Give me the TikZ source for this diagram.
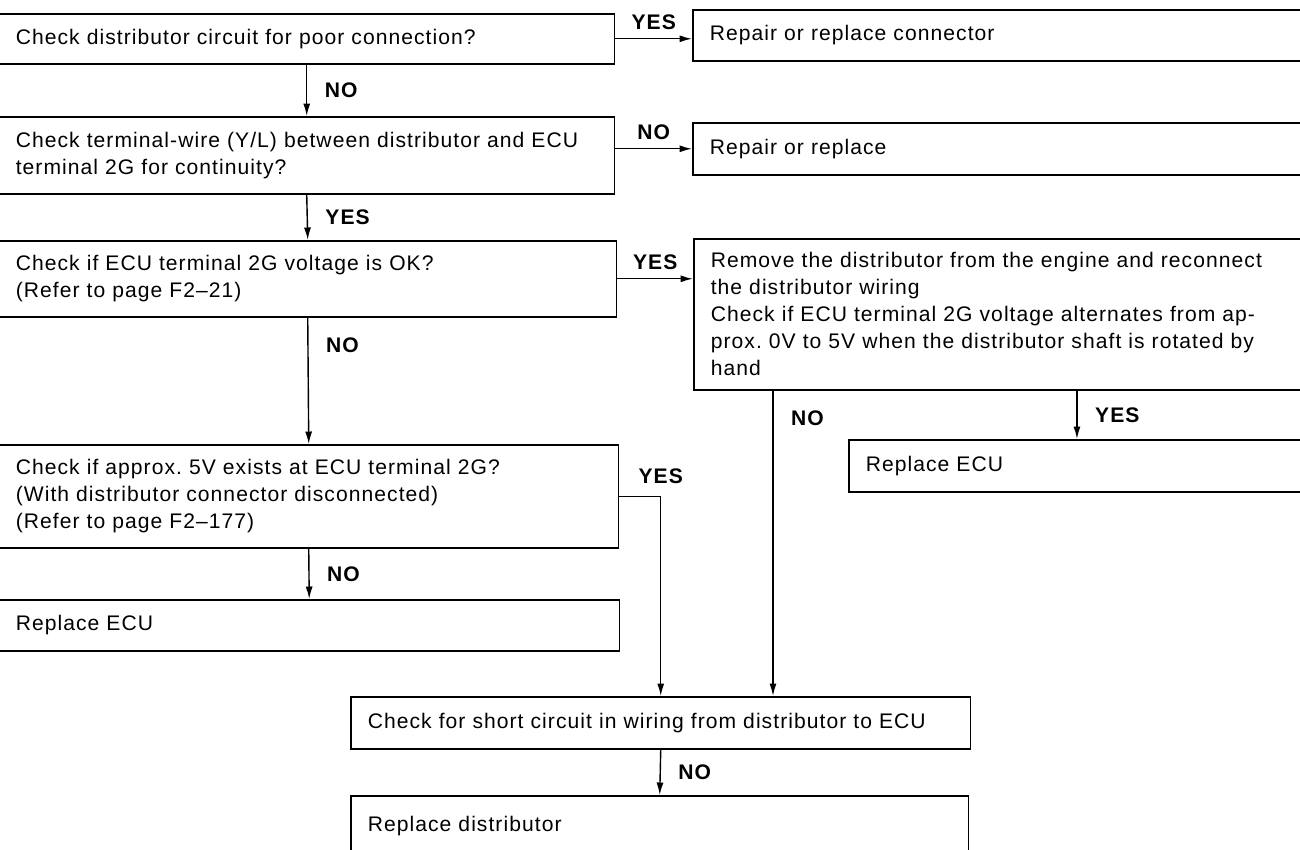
\documentclass[tikz,border=0pt]{standalone}
\usepackage{fontspec}
\setmainfont[LetterSpace=5]{Liberation Sans}
\usetikzlibrary{arrows.meta, positioning, calc}

\begin{document}
\begin{tikzpicture}[
        x=0.02cm, y=-0.02cm,
        stepbox/.style={
            rectangle,
            draw=black,
            line width=0.9pt,
            anchor=north west,
            align=left,
            inner xsep=0.34cm,
            inner ysep=0pt,
            font=\fontsize{12}{15.4}\selectfont
        },
        answer/.style={
            font=\fontsize{12}{13}\selectfont\bfseries,
            inner sep=2pt
        },
        flow/.style={
            line width=0.8pt,
            -{Latex[length=2.5mm,width=1.4mm]}
        }
    ]

    \useasboundingbox (0,0) rectangle (1300,849);
    \clip (0,0) rectangle (1300,849);

    % Left column
    \node[stepbox, text width=11.64cm, minimum height=1.0cm] (poorconn) at (-2,13)
        {Check distributor circuit for poor connection?};
    \node[stepbox, text width=11.64cm, minimum height=1.54cm] (wirecont) at (-2,116)
        {Check terminal-wire (Y/L) between distributor and ECU\\terminal 2G for continuity?};
    \node[stepbox, text width=11.68cm, minimum height=1.52cm] (voltok) at (-2,240)
        {Check if ECU terminal 2G voltage is OK?\\(Refer to page F2--21)};
    \node[stepbox, text width=11.72cm, minimum height=2.06cm] (approx5v) at (-2,444)
        {Check if approx.\ 5V exists at ECU terminal 2G?\\(With distributor connector disconnected)\\(Refer to page F2--177)};
    \node[stepbox, text width=11.74cm, minimum height=1.02cm] (replecu) at (-2,599)
        {Replace ECU};

    % Right column
    \node[stepbox, text width=11.88cm, minimum height=1.02cm] (repconn) at (692,9)
        {Repair or replace connector};
    \node[stepbox, text width=11.88cm, minimum height=1.04cm] (repair) at (692,122)
        {Repair or replace};
    \node[stepbox, text width=11.86cm, minimum height=3.02cm] (remdist) at (693,238)
        {Remove the distributor from the engine and reconnect\\the distributor wiring\\Check if ECU terminal 2G voltage alternates from ap-\\prox.\ 0V to 5V when the distributor shaft is rotated by\\hand};
    \node[stepbox, text width=8.76cm, minimum height=1.04cm] (ecuright) at (848,439)
        {Replace ECU};

    % Bottom
    \node[stepbox, text width=11.72cm, minimum height=1.04cm] (checkshort) at (350,696)
        {Check for short circuit in wiring from distributor to ECU};
    \node[stepbox, text width=11.68cm, minimum height=1.2cm] (repdist) at (350,795)
        {Replace distributor};

    % Connectors
    \draw[flow] (poorconn.east) -- node[answer, above=3pt] (yes1) {YES} (poorconn.east -| repconn.west);
    \draw[flow] (poorconn.south) -- node[answer, right=0.28cm] (no1) {NO} (wirecont.north);

    \draw[flow] (wirecont.east |- repair.west) -- node[answer, above=3pt] (no2) {NO} (repair.west);
    \draw[flow] (wirecont.south) -- node[answer, right=0.28cm] (yes2) {YES} (voltok.north);

    \draw[flow] (voltok.east) -- node[answer, above=3pt] (yes3) {YES} (voltok.east -| remdist.west);
    \draw[flow] (voltok.south) -- node[answer, right=0.28cm, pos=0.22] (no3) {NO} (approx5v.north);

    \draw[flow] (approx5v.south) -- node[answer, right=0.28cm] (no4) {NO} (replecu.north);
    \draw[flow] (approx5v.east) -| node[answer, above=5pt, pos=0.5] (yes4) {YES} (checkshort.north);

    \coordinate (nodrop) at ([xshift=1.6cm]remdist.south west);
    \draw[flow] (nodrop) -- node[answer, right=0.28cm, pos=0.09] (no5) {NO} (nodrop |- checkshort.north);

    \coordinate (yesdrop) at ([xshift=4.58cm]ecuright.north west);
    \draw[flow] (yesdrop |- remdist.south) -- node[answer, right=0.28cm] (yes5) {YES} (yesdrop);

    \draw[flow] (checkshort.south) -- node[answer, right=0.28cm] (no6) {NO} (repdist.north);

\end{tikzpicture}
\end{document}
